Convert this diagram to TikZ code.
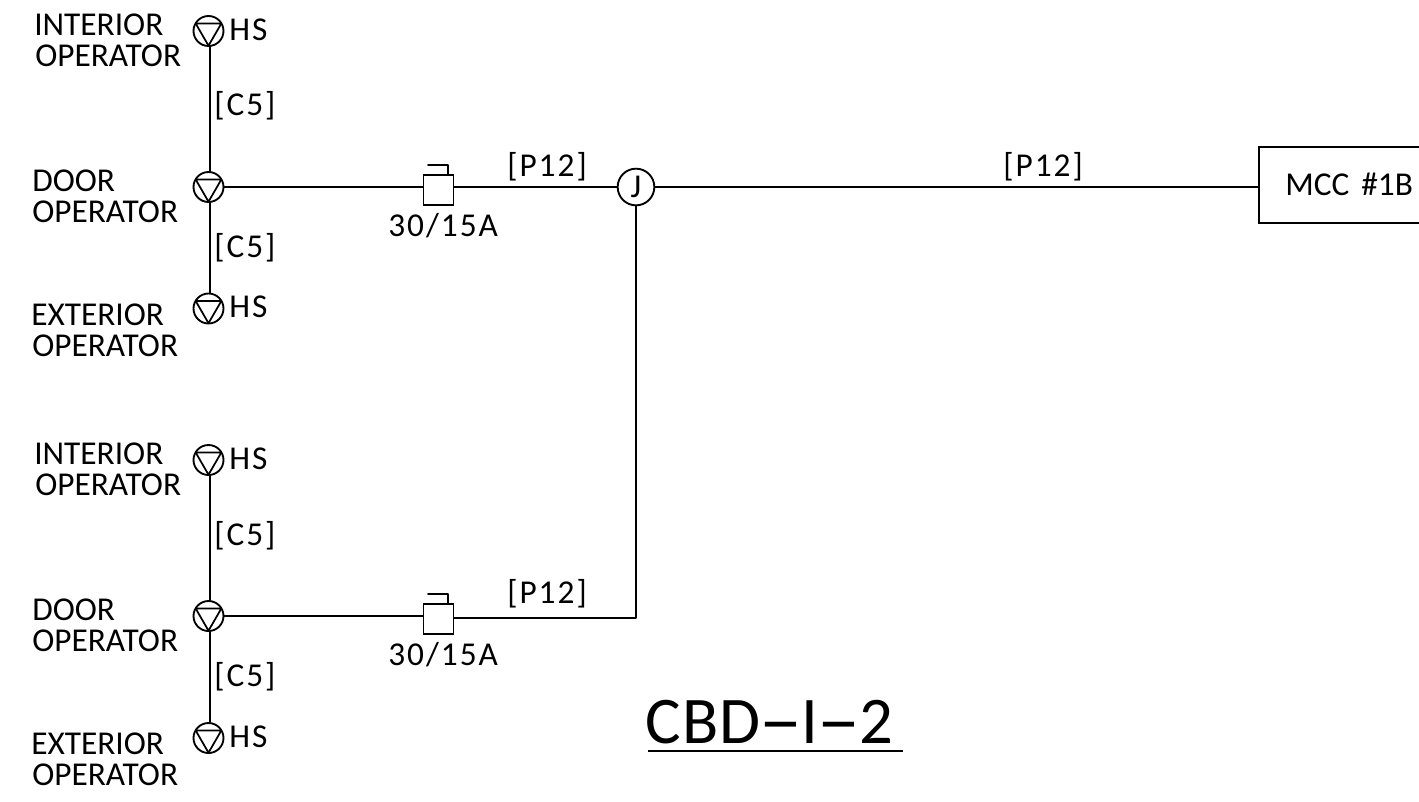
\documentclass[tikz,border=0pt]{standalone}
\usepackage{fontspec}
\setmainfont{Carlito}
\newfontfamily\spaced[LetterSpace=6]{Carlito}
\newfontfamily\titlefont[LetterSpace=2]{Carlito}
\begin{document}
\begin{tikzpicture}[x=0.75pt,y=-0.75pt,
  wire/.style={line width=1.5pt,line cap=round,line join=round},
  lbl/.style={anchor=base west,inner sep=0pt,font=\fontsize{25}{30}\selectfont},
  nlbl/.style={anchor=base west,inner sep=0pt,font=\fontsize{25}{30}\spaced},
  title/.style={anchor=base west,inner sep=0pt,font=\fontsize{50}{60}\titlefont},
  opsym/.style={circle,draw,line width=1.4pt,minimum size=22.5pt,inner sep=0pt,
    path picture={\draw[line width=1.3pt] ([xshift=-9.6pt,yshift=5.6pt]path picture bounding box.center) -- ([xshift=9.6pt,yshift=5.6pt]path picture bounding box.center) -- ([yshift=-11pt]path picture bounding box.center) -- cycle;}},
  brk/.style={rectangle,draw,line width=1.4pt,minimum size=22.5pt,inner sep=0pt},
  jbox/.style={circle,draw,line width=1.4pt,minimum size=27.5pt,inner sep=0pt,font=\fontsize{25}{30}\selectfont},
  mcc/.style={rectangle,draw,line width=1.4pt,minimum width=128pt,minimum height=57pt,inner sep=0pt}]
\useasboundingbox (0,0) rectangle (1419,801);
% symbols
\node[opsym] (hsa) at (208.5,31) {};
\node[opsym] (doora) at (208.5,187) {};
\node[opsym] (hsb) at (208.5,308.5) {};
\node[opsym] (hsc) at (208.5,460) {};
\node[opsym] (doorb) at (208.5,616) {};
\node[opsym] (hsd) at (208.5,738) {};
\node[brk] (brka) at (438.5,190) {};
\node[brk] (brkb) at (438.5,619) {};
\node[jbox] (j) at (636,187) {J};
\node[mcc] (mccbox) at (1344.5,185) {};
\coordinate (corner) at (636,618);
\coordinate (taba) at (428,165);
\coordinate (tabb) at (428,594);
\coordinate (tabc) at (448,165);
\coordinate (tabd) at (448,594);
% wires
\draw[wire] ([xshift=1.1pt]hsa.south) -- ([xshift=1.1pt]doora.north);
\draw[wire] ([xshift=1.1pt]doora.south) -- ([xshift=1.1pt]hsb.north);
\draw[wire] ([xshift=1.1pt]hsc.south) -- ([xshift=1.1pt]doorb.north);
\draw[wire] ([xshift=1.1pt]doorb.south) -- ([xshift=1.1pt]hsd.north);
\draw[wire] (doora.east) -- (doora.east -| brka.west);
\draw[wire] (doora.east -| brka.east) -- (j.west);
\draw[wire] (j.east) -- (j.east -| mccbox.west);
\draw[wire] (j.south) -- (corner) -- (corner -| brkb.east);
\draw[wire] (doorb.east) -- (doorb.east -| brkb.west);
\draw[wire] (taba) -- (tabc) -- (tabc |- brka.north);
\draw[wire] (tabb) -- (tabd) -- (tabd |- brkb.north);
% labels
\node[lbl] (l1) at (34,35) {INTERIOR};
\node[lbl] (l2) at (35,66) {OPERATOR};
\node[nlbl] (l3) at (229,40) {HS};
\node[nlbl] (l4) at (214,115) {[C5]};
\node[lbl] (l5) at (32,191) {DOOR};
\node[lbl] (l6) at (32,222) {OPERATOR};
\node[nlbl] (l7) at (214,257) {[C5]};
\node[lbl] (l8) at (31,325) {EXTERIOR};
\node[lbl] (l9) at (32,356) {OPERATOR};
\node[nlbl] (l10) at (229,317) {HS};
\node[lbl] (l11) at (34,464) {INTERIOR};
\node[lbl] (l12) at (35,495) {OPERATOR};
\node[nlbl] (l13) at (229,469) {HS};
\node[nlbl] (l14) at (214,545) {[C5]};
\node[lbl] (l15) at (32,620) {DOOR};
\node[lbl] (l16) at (32,651) {OPERATOR};
\node[nlbl] (l17) at (214,686) {[C5]};
\node[lbl] (l18) at (31,754) {EXTERIOR};
\node[lbl] (l19) at (32,785) {OPERATOR};
\node[nlbl] (l20) at (229,747) {HS};
\node[nlbl] (l21) at (388,236) {30/15A};
\node[nlbl] (l22) at (388,665) {30/15A};
\node[nlbl] (l23) at (507,176) {[P12]};
\node[nlbl] (l24) at (507,603) {[P12]};
\node[nlbl] (l25) at (1003,176) {[P12]};
\node[lbl] (l26) at (1285,195) {MCC\hspace{9pt}\#1B};
\node[title] (t) at (645,743) {CBD\scalebox{2}[1]{-}I\scalebox{2}[1]{-}2};
\draw[line width=1.7pt] (648,751) -- (903,751);
\end{tikzpicture}
\end{document}
